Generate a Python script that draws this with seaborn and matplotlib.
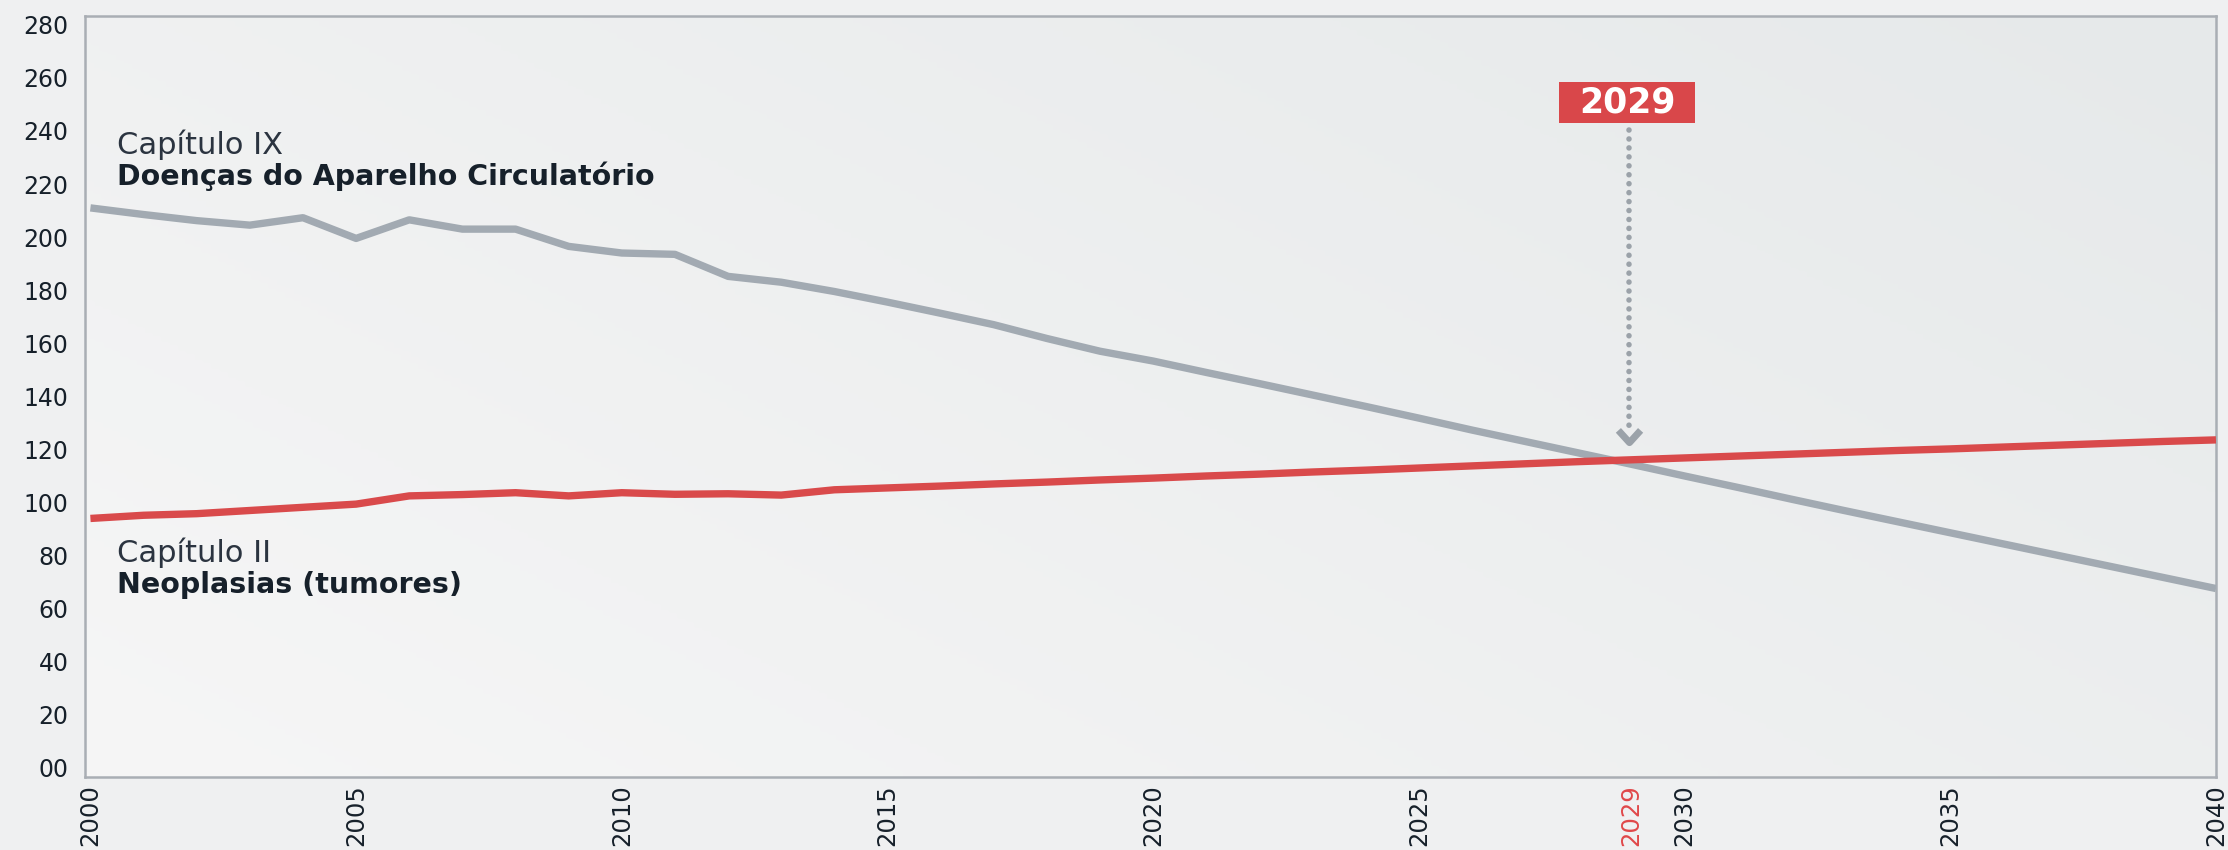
import matplotlib
matplotlib.use("Agg")
import matplotlib.pyplot as plt
import numpy as np
import pandas as pd
import seaborn as sns
from matplotlib.path import Path
from matplotlib.patches import Rectangle
from matplotlib.colors import LinearSegmentedColormap
from matplotlib import font_manager

# ---------------- data ----------------
years = list(range(2000, 2041))
circulatorio = [211.0, 208.5, 206.2, 204.5, 207.3, 199.5, 206.5, 203.0, 203.0, 196.5,
                194.0, 193.5, 185.2, 183.0, 179.5, 175.5, 171.3, 167.0, 161.8, 157.0,
                153.3, 149.0, 144.8, 140.5, 136.2, 131.8, 127.3, 123.0, 118.7, 114.4,
                110.0, 105.7, 101.3, 97.0, 92.8, 88.6, 84.4, 80.2, 76.0, 71.8, 67.6]
neoplasias = [94.0, 95.2, 95.8, 97.0, 98.2, 99.4, 102.5, 103.0, 103.7, 102.5,
              103.7, 103.1, 103.3, 102.8, 104.8, 105.5, 106.2, 107.0, 107.7, 108.5,
              109.2, 110.0, 110.7, 111.5, 112.2, 113.0, 113.8, 114.6, 115.4, 116.1,
              116.8, 117.5, 118.2, 118.9, 119.6, 120.2, 120.9, 121.6, 122.3, 123.0, 123.6]
series_names = ["Doenças do Aparelho Circulatório", "Neoplasias (tumores)"]
series_chapters = ["Capítulo IX", "Capítulo II"]
y_ticks = list(range(0, 281, 20))
y_tick_labels = ["00"] + [str(v) for v in y_ticks[1:]]
x_ticks = [2000, 2005, 2010, 2015, 2020, 2025, 2029, 2030, 2035, 2040]
highlight_year = 2029
highlight_label = "2029"

# ---------------- style ----------------
sns.set_theme(style="white")
plt.rcParams["font.family"] = ["DejaVu Sans"]

available = {f.name for f in font_manager.fontManager.ttflist}
narrow = "Liberation Sans Narrow" if "Liberation Sans Narrow" in available else None

GRAY = "#a2aab2"
RED = "#d94a4b"
DARK = "#16202a"
BG = "#eff0f1"

df = pd.DataFrame({
    "ano": years * 2,
    "valor": circulatorio + neoplasias,
    "serie": [series_names[0]] * len(years) + [series_names[1]] * len(years),
})

fig = plt.figure(figsize=(22.28, 8.5), dpi=100, facecolor=BG)
ax = fig.add_axes([0.0382, 0.0859, 0.9564, 0.8953])
ax.set_facecolor(BG)

# subtle background gradient
grad = np.linspace(0, 1, 256)
gx, gy = np.meshgrid(grad, grad)
g = (gx * 0.6 + (1 - gy) * 0.4)
cmap_bg = LinearSegmentedColormap.from_list("bg", ["#f6f6f6", "#e6e9ea"])
ax.imshow(g, extent=[0, 1, 0, 1], transform=ax.transAxes, cmap=cmap_bg,
          aspect="auto", zorder=0, origin="upper")

sns.lineplot(data=df, x="ano", y="valor", hue="serie", hue_order=series_names,
             palette={series_names[0]: GRAY, series_names[1]: RED},
             linewidth=5.3, legend=False, ax=ax, zorder=3)
for ln in ax.get_lines():
    ln.set_solid_capstyle("butt")
    ln.set_solid_joinstyle("round")

ax.set_xlim(1999.9, 2040)
ax.set_ylim(-3.4, 283.3)
ax.set_xlabel("")
ax.set_ylabel("")

ax.set_yticks(y_ticks)
ax.set_yticklabels(y_tick_labels, fontsize=17, color=DARK)
ax.set_xticks(x_ticks)
if narrow:
    ax.set_xticklabels([str(t) for t in x_ticks], rotation=90, fontsize=21,
                       family=[narrow, "DejaVu Sans"], color=DARK)
else:
    ax.set_xticklabels([str(t) for t in x_ticks], rotation=90, fontsize=17.5,
                       color=DARK)
for lab, t in zip(ax.get_xticklabels(), x_ticks):
    if t == highlight_year:
        lab.set_color("#e0484a")
ax.tick_params(axis="x", length=0, pad=5)
ax.tick_params(axis="y", length=0, pad=12)
ax.grid(False)

for sp in ax.spines.values():
    sp.set_visible(True)
    sp.set_color("#a9aeb4")
    sp.set_linewidth(1.8)

# series labels
ax.text(2000.5, 234.7, series_chapters[0], fontsize=22, color="#2b3440", va="center", ha="left")
ax.text(2000.5, 222.8, series_names[0], fontsize=20.5, color=DARK, fontweight="bold",
        va="center", ha="left")
ax.text(2000.5, 81.0, series_chapters[1], fontsize=22, color="#2b3440", va="center", ha="left")
ax.text(2000.5, 68.8, series_names[1], fontsize=20.5, color=DARK, fontweight="bold",
        va="center", ha="left")

# 2029 annotation
box_w, box_h = 2.57, 15.5
box_cx, box_cy = highlight_year - 0.08, 250.8
ax.add_patch(Rectangle((box_cx - box_w / 2, box_cy - box_h / 2), box_w, box_h,
                       facecolor="#d9474a", edgecolor="none", zorder=5))
ax.text(box_cx, box_cy, highlight_label, color="white", fontsize=25, fontweight="bold",
        ha="center", va="center", zorder=6)
ax.plot([highlight_year - 0.05] * 2, [240.5, 129.0], color="#9ba2a9", lw=4.0,
        linestyle=(0, (0.01, 1.6)), dash_capstyle="round", zorder=4)
chev = Path([(-1, 0.55), (0, -0.55), (1, 0.55)], [Path.MOVETO, Path.LINETO, Path.LINETO])
ax.plot([highlight_year - 0.05], [125.0], marker=chev, markersize=16, mfc="none",
        mec="#9ba2a9", mew=5, linestyle="none", zorder=4)

fig.savefig("out.png", dpi=100, facecolor=BG)
